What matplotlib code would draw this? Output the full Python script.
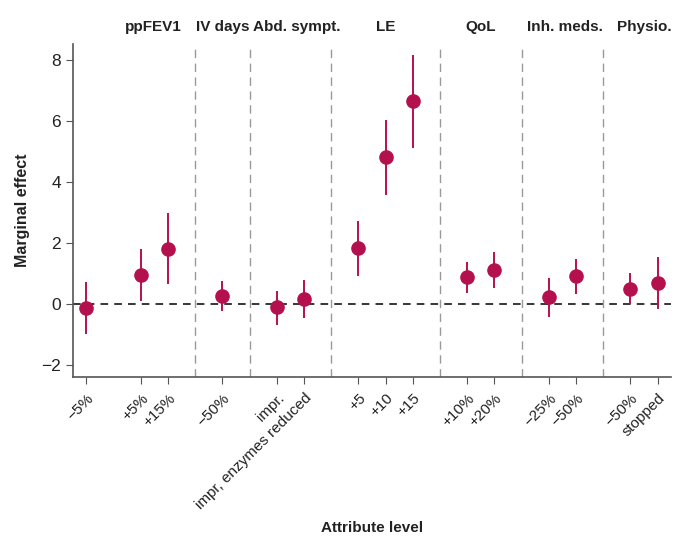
import matplotlib.pyplot as plt

plt.rcParams['font.family'] = ['Liberation Sans', 'DejaVu Sans']

# attribute levels, position on the x axis and estimates with 95% CI
levels = ["\u22125%", "+5%", "+15%", "\u221250%", "impr.", "impr, enzymes reduced",
          "+5", "+10", "+15", "+10%", "+20%", "\u221225%", "\u221250%", "\u221250%", "stopped"]
positions = [0, 2, 3, 5, 7, 8, 10, 11, 12, 14, 15, 17, 18, 20, 21]
effect = [-0.14, 0.95, 1.81, 0.25, -0.11, 0.16, 1.84, 4.81, 6.65, 0.88, 1.12, 0.22, 0.92, 0.50, 0.69]
ci_low = [-0.98, 0.11, 0.66, -0.24, -0.68, -0.47, 0.93, 3.58, 5.11, 0.36, 0.53, -0.42, 0.34, -0.01, -0.16]
ci_high = [0.71, 1.80, 2.97, 0.74, 0.44, 0.79, 2.73, 6.04, 8.16, 1.37, 1.71, 0.85, 1.48, 1.01, 1.54]

groups = ["ppFEV1", "IV days", "Abd. sympt.", "LE", "QoL", "Inh. meds.", "Physio."]
group_centers = [2.45, 5, 7.75, 11, 14.5, 17.6, 20.5]
separators = [4, 6, 9, 13, 16, 19]

col = "#b5104e"

fig = plt.figure(figsize=(6.74, 5.42), dpi=100)
ax = fig.add_axes([0.108, 0.304, 0.888, 0.615])

ax.axhline(0, color="black", linestyle=(0, (5, 4)), linewidth=1.1, zorder=1)
for s in separators:
    ax.axvline(s, color="#999999", linestyle=(0, (6, 4)), linewidth=1.0, zorder=1)

ax.vlines(positions, ci_low, ci_high, color=col, linewidth=1.4, zorder=2)
ax.plot(positions, effect, 'o', color=col, markersize=9.5, zorder=3)

ax.set_xlim(-0.5, 21.5)
ax.set_ylim(-2.4, 8.52)
ax.set_yticks([-2, 0, 2, 4, 6, 8])
ax.set_yticklabels(["\u22122", "0", "2", "4", "6", "8"])
ax.set_xticks(positions)
ax.set_xticklabels(levels, rotation=45, ha="right", rotation_mode="anchor")

for sp in ["top", "right"]:
    ax.spines[sp].set_visible(False)
for sp in ["left", "bottom"]:
    ax.spines[sp].set_color("#555555")
    ax.spines[sp].set_linewidth(1.2)
ax.tick_params(axis="y", labelsize=12.5, colors="#555555", labelcolor="#222222", length=5)
ax.tick_params(axis="x", labelsize=11, colors="#555555", labelcolor="#222222", length=5, pad=5)

for g, c in zip(groups, group_centers):
    ax.text(c, 1.03, g, transform=ax.get_xaxis_transform(), ha="center", va="bottom",
            fontsize=11, fontweight="bold", color="#222222")

ax.set_ylabel("Marginal effect", fontsize=11.5, fontweight="bold", color="#222222")
ax.yaxis.set_label_coords(-0.072, 0.5)
fig.text(0.552, 0.012, "Attribute level", ha="center", va="bottom", fontsize=11,
         fontweight="bold", color="#222222")

fig.savefig("out.png", dpi=100)
